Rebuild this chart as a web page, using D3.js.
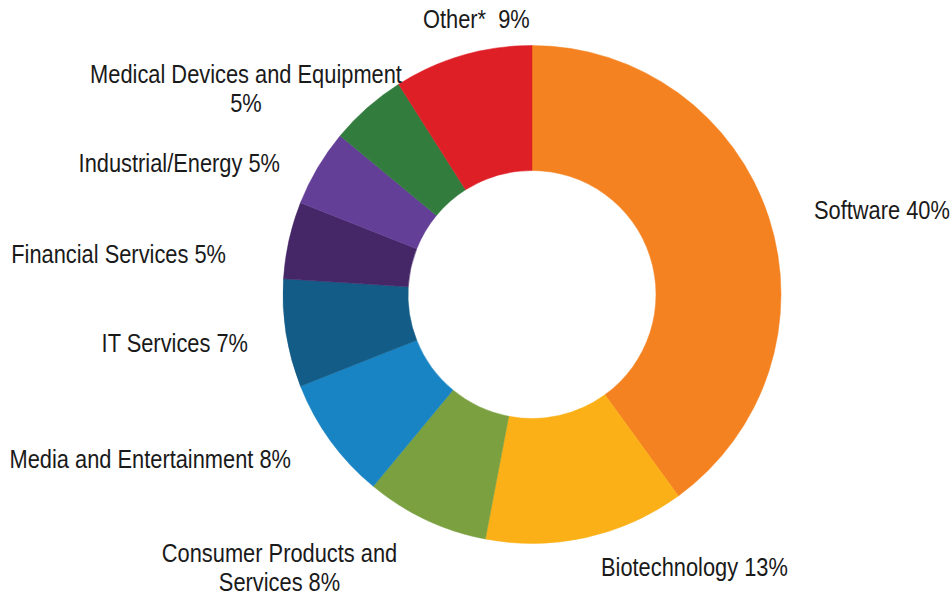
<!DOCTYPE html>
<html>
<head>
<meta charset="utf-8">
<script src="https://cdn.jsdelivr.net/npm/d3@7"></script>
<style>
  html, body { margin: 0; padding: 0; background: #fff; }
  svg { display: block; }
  text { font-family: "Liberation Sans Narrow", "Arial Narrow", "Liberation Sans", Arial, sans-serif; font-size: 26px; fill: #1a1a1a; }
</style>
</head>
<body>
<svg id="chart" width="952" height="595"></svg>
<script>
// ---- data ----
const categories = ["Software", "Biotechnology", "Consumer Products and Services", "Media and Entertainment",
  "IT Services", "Financial Services", "Industrial/Energy", "Medical Devices and Equipment", "Other*"];
const shares = [40, 13, 8, 8, 7, 5, 5, 5, 9];
const colors = ["#F58220", "#FBB017", "#7AA040", "#1884C3", "#135C87", "#452767", "#633F97", "#327C3E", "#DE1F26"];
// label text lines (line breaks as in the original)
const labelLines = [
  ["Software 40%"],
  ["Biotechnology 13%"],
  ["Consumer Products and", "Services 8%"],
  ["Media and Entertainment 8%"],
  ["IT Services 7%"],
  ["Financial Services 5%"],
  ["Industrial/Energy 5%"],
  ["Medical Devices and Equipment", "5%"],
  ["Other*\u00a0\u00a09%"]
];

// ---- layout ----
const cx = 532, cy = 294.5, R = 249, r = 124;
const labelAnchor = ["start", "start", "middle", "end", "end", "end", "end", "middle", "start"];
const labelPos = [
  [814, 219], [601, 576], [279.5, 562], [291, 468], [248, 352], [226, 263], [280, 172], [246, 83], [423, 28]
];
const lineGap = 29;
const narrow = 0.84; // horizontal condensing to imitate a narrow face

const svg = d3.select("#chart");
const g = svg.append("g").attr("transform", `translate(${cx},${cy})`);

const data = categories.map((c, i) => ({name: c, value: shares[i], color: colors[i], lines: labelLines[i], i}));

const pie = d3.pie().value(d => d.value).sort(null).startAngle(0).endAngle(2 * Math.PI);
const arc = d3.arc().innerRadius(r).outerRadius(R);

g.selectAll("path.slice")
  .data(pie(data))
  .join("path")
  .attr("class", "slice")
  .attr("d", arc)
  .attr("fill", d => d.data.color)
  .attr("stroke", d => d.data.color)
  .attr("stroke-width", 0.5);

// detect whether a real narrow face is present
const probe = svg.append("text").attr("x", -1000).attr("y", -1000).text("Software 40%");
const probeW = probe.node().getComputedTextLength();
probe.remove();
const sx = probeW > 145 ? narrow : 1;

const labels = svg.selectAll("text.lbl")
  .data(data)
  .join("text")
  .attr("class", "lbl")
  .attr("text-anchor", d => labelAnchor[d.i])
  .attr("transform", d => `translate(${labelPos[d.i][0]},${labelPos[d.i][1]}) scale(${sx},1)`);

labels.each(function(d) {
  const t = d3.select(this);
  d.lines.forEach((ln, k) => {
    t.append("tspan")
      .attr("x", 0)
      .attr("dy", k === 0 ? 0 : lineGap)
      .text(ln);
  });
});
</script>
</body>
</html>
